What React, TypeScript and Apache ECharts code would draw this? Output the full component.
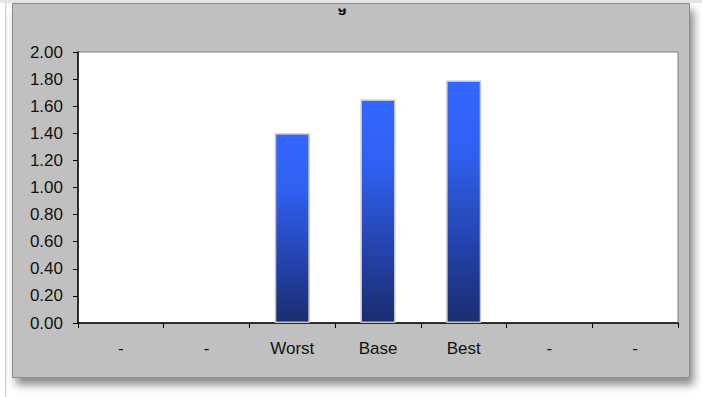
import React, { useEffect, useRef } from "react";
import * as echarts from "echarts";

const categories = ["-", "-", "Worst", "Base", "Best", "-", "-"];
const values: (number | null)[] = [null, null, 1.4, 1.65, 1.79, null, null];
const yMin = 0;
const yMax = 2;
const yInterval = 0.2;
const titleFragment = "g";

export default function App() {
  const ref = useRef<HTMLDivElement>(null);
  useEffect(() => {
    document.body.style.margin = "0";
    if (!ref.current) return;
    const chart = echarts.init(ref.current, undefined, { renderer: "svg" });
    const font = "'Liberation Sans', Arial, sans-serif";
    chart.setOption({
      animation: false,
      backgroundColor: "#ffffff",
      graphic: [
        { type: "rect", z: -10, shape: { x: 5, y: 3, width: 1.5, height: 394 }, style: { fill: "#d6d6d6" } },
        {
          type: "rect",
          z: -9,
          shape: { x: 12.5, y: 3.5, width: 677, height: 374 },
          style: {
            fill: "#c0c0c0",
            stroke: "#8c8c8c",
            lineWidth: 1,
            shadowBlur: 8,
            shadowOffsetX: 4,
            shadowOffsetY: 7,
            shadowColor: "rgba(0,0,0,0.45)",
          },
        },
        {
          type: "text",
          z: -8,
          x: 342,
          y: 14,
          style: {
            text: titleFragment,
            font: "bold 15px " + font,
            fill: "#000000",
            align: "center",
            verticalAlign: "bottom",
          },
        },
        { type: "rect", z: -7, shape: { x: 330, y: 4, width: 30, height: 4.5 }, style: { fill: "#c0c0c0" } },
        { type: "rect", z: -6, shape: { x: 0, y: 0, width: 702, height: 3 }, style: { fill: "#e4e4e4" } },
      ],
      grid: {
        left: 78,
        top: 52,
        right: 24,
        bottom: 74,
        show: true,
        backgroundColor: "#ffffff",
        borderColor: "#808080",
        borderWidth: 1,
      },
      xAxis: {
        type: "category",
        data: categories,
        boundaryGap: true,
        axisLine: { lineStyle: { color: "#000000", width: 1.5 } },
        axisTick: { show: true, length: 5, alignWithLabel: false, lineStyle: { color: "#000000" } },
        axisLabel: { color: "#111111", fontSize: 17, fontFamily: font, margin: 17, interval: 0 },
        splitLine: { show: false },
      },
      yAxis: {
        type: "value",
        min: yMin,
        max: yMax,
        interval: yInterval,
        axisLine: { show: true, lineStyle: { color: "#000000", width: 1.5 } },
        axisTick: { show: true, length: 5, lineStyle: { color: "#000000" } },
        axisLabel: {
          color: "#111111",
          fontSize: 17,
          fontFamily: font,
          margin: 15,
          formatter: (v: number) => v.toFixed(2),
        },
        splitLine: { show: false },
      },
      series: [
        {
          type: "bar",
          data: values,
          barWidth: 35,
          itemStyle: {
            borderColor: "#c4c4c4",
            borderWidth: 1.5,
            color: new echarts.graphic.LinearGradient(0, 0, 0, 1, [
              { offset: 0, color: "#3366ff" },
              { offset: 0.3, color: "#3060f0" },
              { offset: 0.7, color: "#2341a8" },
              { offset: 1, color: "#1a2d70" },
            ]),
          },
        },
      ],
    });
    return () => chart.dispose();
  }, []);
  return (
    <div
      ref={ref}
      style={{ position: "absolute", left: 0, top: 0, width: 702, height: 397 }}
    />
  );
}
